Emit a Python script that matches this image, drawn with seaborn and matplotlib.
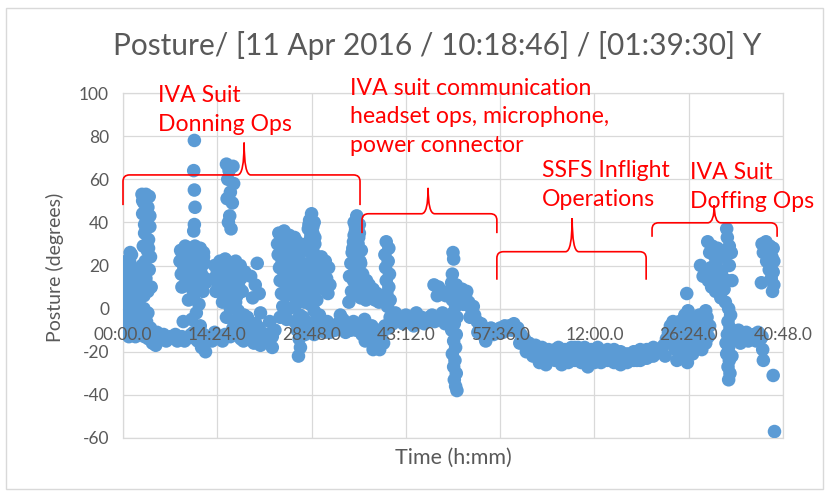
import numpy as np
import pandas as pd
import matplotlib
matplotlib.use("Agg")
import matplotlib.pyplot as plt
import seaborn as sns
from matplotlib.path import Path
from matplotlib.patches import PathPatch, Rectangle

# ---------------- data (elapsed minutes, posture degrees) ----------------
donning_t = [
    0.3, 0.3, 0.4, 0.6, 0.7, 0.9, 1.0, 1.2, 1.3, 1.5, 1.6, 1.8, 2.0, 2.1, 2.3, 0.3, 0.5, 0.8, 1.1, 1.4, 1.7, 2.0, 2.3, 0.4, 0.9, 1.4, 1.9, 1.1,
    2.9, 3.5, 4.0, 3.2, 3.8, 3.0, 3.6, 4.1, 3.3, 3.9, 3.1, 3.7, 4.2, 3.4, 2.9, 4.0, 3.5, 4.3, 2.8, 3.2,
    3.0, 3.6, 4.2, 2.7, 3.3, 3.9, 4.5, 3.2, 3.8, 4.5, 5.0,
    4.8, 5.5, 6.2, 6.9, 7.6, 8.3, 9.0, 9.7, 10.4, 11.1, 11.8, 12.5,
    5.2, 6.6, 8.0, 9.4, 10.8, 12.2,
    10.9, 10.8, 10.9, 11.0, 10.9, 10.8,
    8.8, 9.5, 10.2, 11.0, 11.8, 12.3, 8.7, 9.4, 10.1, 10.8, 11.6, 12.4, 8.9, 9.6, 10.3, 11.1, 11.9, 12.5,
    9.0, 9.8, 10.6, 11.4, 12.2, 12.6, 10.0, 10.8, 11.6, 11.2, 10.5, 9.2, 11.8, 12.3, 11.4, 12.0, 12.6,
    13.2, 14.0, 14.8, 15.6, 16.4, 17.2, 18.0, 18.8, 19.6, 20.4, 21.2, 22.0, 22.8, 13.6, 15.2, 16.8, 18.4, 20.0, 21.6, 23.2,
    20.0, 21.0, 22.0, 22.8, 21.5, 19.5,
    15.8, 16.8, 16.2, 16.0, 16.9, 16.4, 15.9, 16.7, 16.3, 16.1, 16.5,
    14.0, 14.8, 15.6, 16.4, 17.2, 17.9, 13.9, 14.7, 15.5, 16.3, 17.1, 18.0, 14.2, 15.0, 15.8, 16.6, 17.4, 18.2,
    15.2, 16.0, 16.8, 17.6, 18.5, 19.3, 15.8, 17.0, 18.0, 18.6, 19.5, 20.2, 20.5, 19.8, 20.8, 21.0, 20.3,
    23.8, 24.6, 25.4, 26.2, 23.6, 24.4, 25.2, 26.0, 26.8, 23.7, 24.5, 25.3, 26.1, 26.9, 23.9, 24.7, 25.5, 26.3, 27.1,
    24.0, 24.8, 25.6, 26.4, 27.2, 24.2, 25.0, 25.8, 26.6, 27.4, 24.4, 25.4, 26.4, 27.0, 26.2, 25.0, 24.0,
    26.6, 26.9, 27.1, 26.8, 27.3,
    28.8, 28.5, 29.2, 28.3, 29.0, 28.6, 29.3, 28.2, 28.9, 29.5, 28.4, 29.1, 28.7, 29.4, 28.3, 29.0, 29.6, 28.6, 29.2, 27.8, 27.9, 28.0,
    30.3, 30.9, 31.4, 30.5, 31.1, 31.6, 30.7, 31.3, 30.4,
    28.0, 28.8, 29.6, 30.4, 31.2, 32.0, 32.8, 33.6, 34.4, 35.2, 36.0, 28.4, 30.0, 31.6, 33.2, 34.8, 27.5, 27.8,
    0.2, 0.6, 1.0, 1.4, 1.8, 2.2, 0.5, 1.3, 2.1, 0.8, 1.6,
    3.0, 3.6, 4.1, 3.3, 3.9, 3.4, 3.8,
    9.1, 9.9, 10.7, 11.5, 12.3, 9.3, 10.1, 10.9, 11.7, 9.6, 10.4, 11.3, 12.0,
    14.4, 15.2, 16.0, 16.8, 17.6, 14.5, 15.3, 16.1, 16.9, 17.7, 16.4, 17.2,
    24.2, 25.0, 25.8, 26.6, 24.1, 24.9, 25.7, 26.5, 24.3, 25.1, 25.9, 26.7, 24.6, 25.6, 26.6, 27.6, 27.7, 27.5,
    28.4, 29.0, 28.7, 29.3, 28.5, 29.1, 28.8, 29.4, 28.6,
    29.2, 30.8, 32.4, 34.0, 35.6,
    5.9, 7.3, 8.7, 10.1, 11.5,
    19.0, 20.8, 22.4,
]
donning_deg = [
    8, 14, 19, 11, 4, 16, 22, 9, 25, 13, 6, 18, 11, 3, 15, -2, -7, -10, -5, -12, -8, -11, -4, 0, -13, -1, -13, 26,
    53, 53, 52, 49, 47, 44, 41, 38, 35, 32, 29, 27, 24, 22, 20, 18, 14, 10, 12, 6,
    -3, -6, -9, -11, -13, -14, -13, 0, -2, -16, -17,
    -13, -14, -12, -14, -13, -15, -13, -14, -12, -14, -13, -15,
    -11, -15, -12, -15, -11, -16,
    78, 64, 55, 47, 39, 36,
    27, 29, 28, 29, 28, 26, 22, 24, 22, 25, 23, 21, 16, 18, 15, 17, 19, 14,
    10, 12, 9, 11, 8, 12, 4, 6, 2, -2, -5, -6, -8, -12, -15, -18, -20,
    -13, -11, -14, -12, -13, -11, -14, -12, -13, -11, -14, -12, -13, -15, -15, -9, -15, -9, -15, -10,
    -16, -17, -15, -18, -12, -10,
    67, 66, 64, 60, 58, 54, 51, 49, 43, 40, 37,
    20, 22, 23, 21, 22, 20, 14, 16, 13, 15, 12, 14, 8, 10, 7, 9, 6, 8,
    3, 4, 2, -1, -3, -6, -4, -6, -8, 17, 15, 11, 21, 5, 7, -2, -7,
    35, 36, 34, 33, 30, 31, 29, 27, 30, 25, 24, 26, 22, 24, 19, 18, 20, 17, 19,
    13, 12, 14, 11, 13, 7, 6, 8, 5, 7, 1, 0, 2, -3, -6, -5, -4,
    -10, -14, -18, -22, -12,
    44, 41, 40, 37, 35, 32, 30, 27, 25, 23, 21, 18, 15, 12, 9, 7, 4, 2, -1, 10, 20, 30,
    24, 22, 19, 16, 14, 11, 9, 7, 20,
    -6, -9, -5, -8, -6, -9, -7, -5, -8, -6, -9, -11, -3, -11, -3, -10, -8, -12,
    3, -4, -8, 3, -3, -7, 22, 17, 8, 6, -6,
    50, 45, 43, 39, 28, 17, 8,
    25, 26, 26, 27, 24, 19, 20, 19, 21, 14, 13, 14, 16,
    17, 19, 18, 19, 17, 11, 12, 11, 12, 10, 0, 3,
    33, 32, 32, 31, 28, 27, 28, 25, 22, 22, 23, 21, 16, 16, 15, 15, 3, -4,
    39, 38, 34, 33, 28, 26, 20, 16, 5,
    -12, -11, -10, -11, -10,
    -13, -13, -14, -13, -13,
    -4, -9, -6,
]

comm_t = [
    35.7, 35.3, 36.1, 35.5, 36.0, 35.2, 35.8, 36.4, 35.0, 35.6, 36.2, 34.8, 35.4, 36.0, 36.6, 34.6, 35.2, 35.8, 36.5, 34.9, 35.6, 36.3, 37.0, 37.2, 34.5,
    37.6, 38.2, 38.8, 39.4, 37.9, 38.5, 39.1, 40.0,
    40.2, 40.6, 40.0, 40.5, 40.1, 40.7, 40.2, 40.6, 40.3, 40.8, 40.4,
    36.8, 37.4, 38.0, 38.6, 39.2, 39.8, 37.0, 38.2, 39.5, 40.0, 36.5,
    40.8, 41.6, 42.4, 43.2, 44.0, 44.8, 45.6, 46.4, 47.2, 48.0, 48.8, 41.2, 42.8, 44.4, 46.0, 47.6, 49.2,
    47.5, 48.2, 48.8, 49.3, 48.0,
    50.4, 50.5, 50.3, 50.2, 50.9, 50.5, 51.1, 50.3, 50.8, 50.4, 51.0, 50.6, 50.2, 50.9, 50.5, 50.8, 50.3, 50.7, 50.5, 50.9, 50.6, 50.8, 51.0,
    51.8, 52.3, 52.8, 53.2, 53.7, 54.1, 54.5, 55.0, 55.4, 52.0, 53.0, 54.2, 55.7,
    56.2, 56.9, 57.6, 58.3, 59.0, 59.7, 56.6, 58.0,
    35.5, 36.1, 35.3, 35.9, 35.1, 35.7, 36.3, 36.8, 37.1,
    36.9, 38.0, 39.0, 40.6, 42.0, 43.6, 45.2, 46.8, 48.4, 49.8,
    52.5, 53.5, 54.7, 55.2,
]
comm_deg = [
    43, 40, 39, 36, 33, 31, 29, 27, 26, 24, 22, 21, 19, 18, 16, 15, 13, 12, 10, 8, 7, 5, 8, 13, 3,
    11, 9, 7, 6, 5, 4, 3, 5,
    31, 28, 25, 22, 19, 16, 13, 10, 7, 4, 1,
    -8, -11, -14, -17, -19, -16, -15, -19, -12, -8, -12,
    -4, -2, -5, -3, -6, -2, -4, -6, -3, -5, -2, -7, -7, -8, -7, -6, -7,
    11, 10, 8, 6, 6,
    26, 23, 16, 12, 11, 8, 6, 4, 1, -2, -4, -7, -10, -12, -15, -18, -21, -24, -27, -30, -33, -36, -38,
    9, 6, 3, 0, -3, -6, -9, -12, -15, 2, -4, -11, -11,
    -9, -10, -9, -8, -8, -7, -12, -11,
    38, 35, 34, 30, 28, 25, 21, 11, 4,
    -5, -8, -10, -9, -5, -4, -5, -4, -4, -5,
    8, 1, -7, -13,
]

ssfs_t = [
    60.3, 60.8, 61.3, 61.8, 62.3, 62.8, 63.3, 63.8, 64.3, 64.8, 65.3, 60.6, 61.6, 62.6, 63.6, 64.6,
    66.0, 67.0, 68.0, 69.0, 70.0, 71.0, 72.0, 66.0, 67.0, 68.0, 69.0, 70.0, 71.0, 72.0, 66.5, 67.5, 68.5, 69.5, 70.5, 71.5,
    73, 74, 75, 76, 77, 78, 79, 80, 81, 73, 74, 75, 76, 77, 78, 79, 80, 81,
    73.5, 74.5, 75.5, 76.5, 77.5, 78.5, 79.5, 80.5, 81.5,
    82.2, 82.6, 83.0, 83.3, 83.6, 84.0, 84.3, 83.8, 84.4, 84.6, 82.8,
    57.8, 58.7, 59.4, 61.0, 62.0, 63.0, 64.0, 65.0, 66.5, 67.5, 68.5, 69.5, 70.5, 71.5, 72.5,
    73.5, 74.5, 75.5, 76.5, 77.5, 78.5, 79.5, 80.5, 81.5,
]
ssfs_deg = [
    -9, -12, -14, -16, -18, -19, -21, -22, -20, -23, -21, -16, -20, -22, -25, -26,
    -19, -20, -19, -18, -19, -20, -19, -24, -26, -25, -24, -25, -27, -25, -22, -23, -22, -21, -22, -23,
    -20, -19, -19, -20, -21, -20, -19, -19, -18, -25, -24, -25, -26, -25, -24, -24, -23, -22,
    -22, -22, -23, -23, -22, -22, -21, -21, -20,
    -20, -17, -14, -11, -8, -6, -9, -15, -19, -24, -22,
    -11, -10, -10, -14, -16, -17, -18, -19, -18, -19, -18, -18, -18, -19, -18,
    -24, -24, -24, -25, -24, -24, -23, -22, -20,
]

doffing_t = [
    86.1, 86.3, 85.0, 85.6, 86.2, 86.8, 87.4, 88.0, 88.6, 89.2, 85.3, 86.0, 86.6, 85.5, 86.2, 85.2, 87.2, 88.0, 88.8, 89.4, 87.6, 88.4, 89.6,
    89.3, 90.0, 89.6, 90.4, 88.2, 89.0, 89.8, 90.6, 91.4, 88.6, 89.4, 90.2, 91.0, 91.8, 90.5, 91.3, 92.0, 89.9, 92.3, 92.6, 92.0,
    92.2, 92.3, 92.6, 92.9, 93.0, 92.5, 92.8, 92.4, 92.7, 92.3, 92.8, 92.5, 92.2, 92.6, 92.4, 92.7, 92.5, 93.0, 92.1,
    94.0, 94.6, 95.2, 95.8, 96.4, 97.0, 94.3, 95.5, 96.7, 97.4,
    97.6, 98.2, 98.8, 99.3, 97.8, 98.5, 99.1, 98.9, 99.3, 99.0, 99.4, 99.2, 97.5, 98.3,
    97.6, 97.7, 97.8, 99.3, 99.5,
    85.8, 86.5, 87.0, 87.8, 88.5, 89.0, 85.8, 87.0, 88.0, 89.0, 90.8, 91.6, 90.9, 91.7, 93.3, 93.5,
    98.0, 98.7, 99.4, 98.0, 98.7,
]
doffing_deg = [
    7, -1, -6, -9, -12, -8, -5, -3, -6, -4, -14, -17, -20, -22, -25, -18, -11, -14, -10, -13, -17, -19, -8,
    31, 29, 26, 24, 20, 18, 19, 21, 17, 15, 13, 14, 11, 9, 8, 5, 3, 10, 13, 20, 24,
    37, 33, 29, 26, 13, 0, -3, -6, -9, -12, -15, -18, -21, -24, -27, -30, -33, -22, -16,
    -10, -13, -11, -14, -12, -11, -16, -15, -15, -14,
    30, 31, 29, 28, 26, 27, 24, 20, 17, 14, 11, 8, 12, 22,
    -13, -19, -24, -31, -57,
    -3, -4, -15, -8, -16, -1, -11, -21, -5, -16, 28, 26, 18, 14, -12, -14,
    28, 25, 22, 30, 18,
]

x_tick_labels = ["00:00.0", "14:24.0", "28:48.0", "43:12.0", "57:36.0", "12:00.0", "26:24.0", "40:48.0"]
y_tick_values = [-60, -40, -20, 0, 20, 40, 60, 80, 100]

title = "Posture/ [11 Apr 2016 / 10:18:46] / [01:39:30] Y"
annotations = ["IVA Suit\nDonning Ops",
               "IVA suit communication\nheadset ops, microphone,\npower connector",
               "SSFS Inflight\nOperations",
               "IVA Suit\nDoffing Ops"]

# ---------------- build table ----------------
df = pd.DataFrame({
    "t": donning_t + comm_t + ssfs_t + doffing_t,
    "deg": donning_deg + comm_deg + ssfs_deg + doffing_deg,
})

sns.set_theme(style="white")
plt.rcParams["font.family"] = ["Lato", "DejaVu Sans"]
plt.rcParams["axes.unicode_minus"] = False

GRID = "#D9D9D9"
TXT = "#595959"
BLUE = "#5B9BD5"
RED = "#FF0000"

W, H = 830, 495
fig = plt.figure(figsize=(W / 100, H / 100), dpi=100)
fig.patch.set_facecolor("white")
ax = fig.add_axes([123 / W, 1 - 438 / H, 660 / W, 345 / H])

x_ticks = [i * 14.4 for i in range(len(x_tick_labels))]
for xv in x_ticks:
    ax.axvline(xv, color=GRID, lw=0.9, zorder=0)

sns.scatterplot(data=df, x="t", y="deg", color=BLUE, s=95, linewidth=0,
                edgecolor="none", ax=ax, legend=False, zorder=3)

ax.set_xlim(0, 100.8)
ax.set_ylim(-60, 100)
ax.set_xticks(x_ticks)
ax.set_xticklabels(x_tick_labels)
ax.set_yticks(y_tick_values)
ax.set_yticklabels([str(v) for v in y_tick_values])
ax.set_xlabel("")
ax.set_ylabel("")
ax.set_axisbelow(True)
ax.yaxis.grid(True, color=GRID, lw=0.9)
ax.xaxis.grid(False)
ax.xaxis.set_zorder(6)
for s in ["left", "right", "top"]:
    ax.spines[s].set_color(GRID)
    ax.spines[s].set_linewidth(0.9)
ax.spines["bottom"].set_position(("data", 0))
ax.spines["bottom"].set_color(GRID)
ax.spines["bottom"].set_linewidth(0.9)
ax.spines["bottom"].set_zorder(0)
ax.axhline(-60, color=GRID, lw=0.9, clip_on=False, zorder=0)
ax.tick_params(axis="both", length=0, labelsize=12.5, labelcolor=TXT)
ax.tick_params(axis="x", pad=13)
ax.tick_params(axis="y", pad=10)


def brace(x0, x1, xm, y_tip, y_bar, y_peak, rx=1.0, ry=3.0):
    verts = [(x0, y_tip), (x0, y_bar - ry), (x0, y_bar), (x0 + rx, y_bar),
             (xm - rx, y_bar), (xm, y_bar), (xm, y_peak),
             (xm, y_bar), (xm + rx, y_bar),
             (x1 - rx, y_bar), (x1, y_bar), (x1, y_bar - ry), (x1, y_tip)]
    codes = [Path.MOVETO, Path.LINETO, Path.CURVE3, Path.CURVE3, Path.LINETO,
             Path.CURVE3, Path.CURVE3, Path.CURVE3, Path.CURVE3, Path.LINETO,
             Path.CURVE3, Path.CURVE3, Path.LINETO]
    ax.add_patch(PathPatch(Path(verts, codes), fill=False, edgecolor=RED,
                           lw=1.2, clip_on=False, zorder=5))


brace(0.0, 36.2, 18.5, 48, 62, 77)
brace(36.5, 57.1, 46.6, 35, 44, 56)
brace(57.1, 79.9, 68.6, 13.4, 26.4, 42)
brace(80.8, 99.9, 90.3, 33.3, 39.8, 48)

ann_pos = [(5.3, 92.0), (34.7, 88.9), (64.0, 57.4), (86.6, 56.3)]
for txt, (xx, yy) in zip(annotations, ann_pos):
    ax.text(xx, yy, txt, color=RED, fontsize=16.6, ha="left", va="center",
            linespacing=1.45, zorder=7, clip_on=False)

fig.text(437 / W, 1 - 45 / H, title, ha="center", va="center", fontsize=21.5, color=TXT)
fig.text(55 / W, 1 - 267 / H, "Posture (degrees)", rotation=90, ha="center",
         va="center", fontsize=14, color=TXT)
fig.text(453 / W, 1 - 458 / H, "Time (h:mm)", ha="center", va="center",
         fontsize=15.5, color=TXT)

fig.patches.append(Rectangle((6 / W, 1 - 489 / H), 817 / W, 481 / H,
                             transform=fig.transFigure, fill=False,
                             edgecolor=GRID, lw=1.0))

fig.savefig("out.png", dpi=100)
